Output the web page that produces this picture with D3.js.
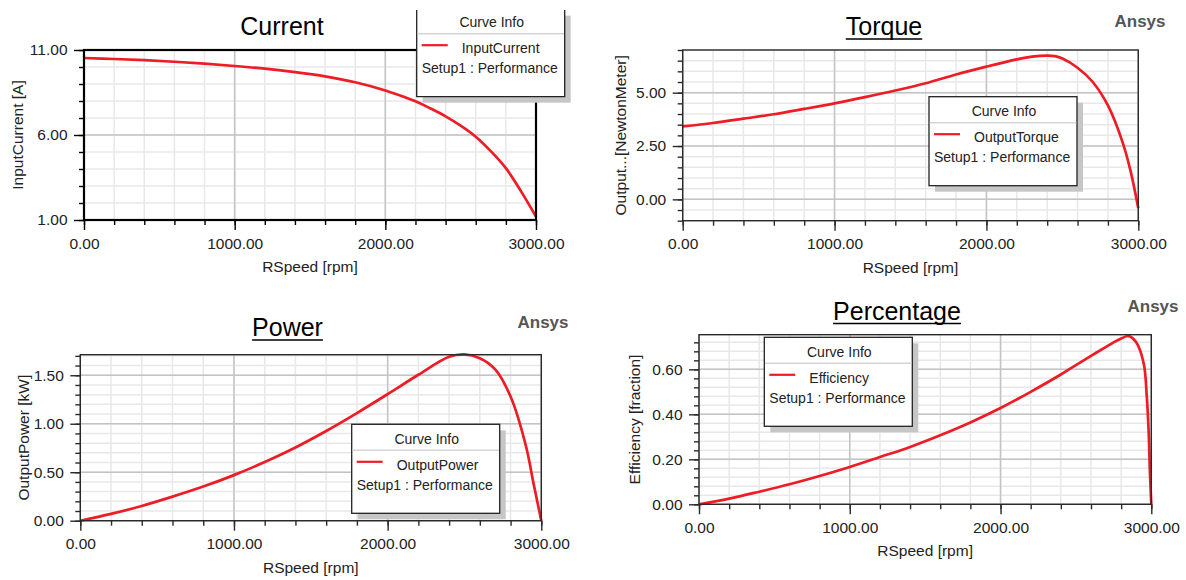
<!DOCTYPE html>
<html>
<head>
<meta charset="utf-8">
<script src="https://cdn.jsdelivr.net/npm/d3@7"></script>
<style>
  html, body { margin: 0; padding: 0; background: #fff; }
  svg { display: block; font-family: "Liberation Sans", Arial, sans-serif; }
</style>
</head>
<body>
<svg id="chart" width="1186" height="580"></svg>
<script>
// ---------------- DATA ----------------
const xTickLabels = ["0.00", "1000.00", "2000.00", "3000.00"];
const xMajorTicks = [0, 1000, 2000, 3000];

const currentRpm = [0, 200, 400, 600, 800, 1000, 1200, 1400, 1600, 1800, 2000, 2200, 2300, 2400, 2500, 2600, 2700, 2800, 2900, 3000];
const currentValues = [10.53, 10.47, 10.4, 10.31, 10.2, 10.06, 9.9, 9.7, 9.45, 9.1, 8.62, 7.98, 7.56, 7.1, 6.55, 5.9, 5.05, 4.05, 2.7, 1.2];
const currentYTicks = [1, 6, 11];

const torqueRpm = [0, 200, 400, 600, 800, 1000, 1200, 1400, 1600, 1800, 2000, 2200, 2300, 2400, 2450, 2500, 2600, 2700, 2800, 2900, 2950, 3000];
const torqueValues = [3.42, 3.58, 3.78, 3.99, 4.24, 4.5, 4.79, 5.1, 5.44, 5.85, 6.22, 6.56, 6.69, 6.74, 6.71, 6.6, 6.17, 5.5, 4.4, 2.6, 1.3, -0.42];
const torqueYTicks = [0, 2.5, 5];

const powerRpm = [0, 200, 400, 600, 800, 1000, 1200, 1400, 1600, 1800, 2000, 2200, 2400, 2500, 2600, 2700, 2800, 2900, 2950, 3000];
const powerValues = [0, 0.07, 0.152, 0.248, 0.352, 0.47, 0.605, 0.755, 0.925, 1.11, 1.305, 1.505, 1.69, 1.715, 1.675, 1.56, 1.28, 0.77, 0.38, 0];
const powerYTicks = [0, 0.5, 1.0, 1.5];

const effRpm = [0, 200, 400, 600, 800, 1000, 1200, 1400, 1600, 1800, 2000, 2200, 2400, 2500, 2600, 2700, 2750, 2800, 2850, 2900, 2950, 2970, 2982, 2991, 3000];
const effValues = [0, 0.025, 0.056, 0.089, 0.126, 0.166, 0.21, 0.255, 0.307, 0.364, 0.428, 0.5, 0.577, 0.619, 0.66, 0.70, 0.72, 0.737, 0.748, 0.72, 0.625, 0.48, 0.33, 0.14, 0];
const effYTicks = [0, 0.2, 0.4, 0.6];

// ---------------- LAYOUT ----------------
const RED = "#ee1c25";
const FONT = "\"Liberation Sans\", Arial, sans-serif";
const svg = d3.select("#chart");

const charts = [
  { id: "cur", title: "Current", underline: false, titleX: 282, titleY: 35, ansys: null,
    left: 84, right: 536, top: 50, bottom: 220, yDomain: [1, 11], yMinorStep: 1, yTicks: currentYTicks,
    rpm: currentRpm, values: currentValues, yLabel: "InputCurrent [A]", yLabelX: 17, heavyFrame: true,
    legend: { x: 416.7, y: 7.7, name: "InputCurrent", noTop: true } },
  { id: "tq", title: "Torque", underline: true, titleX: 884, titleY: 35, ansys: [1140, 27],
    left: 682.7, right: 1138.3, top: 50, bottom: 220.7, yDomain: [-1, 7], yMinorStep: 0.5, yTicks: torqueYTicks,
    rpm: torqueRpm, values: torqueValues, yLabel: "Output...[NewtonMeter]", yLabelX: 620.7,
    legend: { x: 929, y: 96.7, name: "OutputTorque" } },
  { id: "pw", title: "Power", underline: true, titleX: 287.5, titleY: 336, ansys: [543, 328],
    left: 80.3, right: 541.3, top: 354.7, bottom: 520.7, yDomain: [0, 1.712], yMinorStep: 0.1, yTicks: powerYTicks,
    rpm: powerRpm, values: powerValues, yLabel: "OutputPower [kW]", yLabelX: 23.3,
    legend: { x: 351.7, y: 424.3, name: "OutputPower" } },
  { id: "ef", title: "Percentage", underline: true, titleX: 897, titleY: 319.5, ansys: [1153, 312],
    left: 699, right: 1151.3, top: 334.7, bottom: 504.3, yDomain: [0, 0.754], yMinorStep: 0.04, yTicks: effYTicks,
    rpm: effRpm, values: effValues, yLabel: "Efficiency [fraction]", yLabelX: 634,
    legend: { x: 764.3, y: 337.3, name: "Efficiency" } }
];

function minorRange(lo, hi, step) {
  const out = [];
  const n0 = Math.ceil(lo / step - 1e-9), n1 = Math.floor(hi / step + 1e-9);
  for (let i = n0; i <= n1; i++) out.push(+(i * step).toFixed(6));
  return out;
}

charts.forEach(c => {
  const g = svg.append("g");
  const x = d3.scaleLinear().domain([0, 3000]).range([c.left, c.right]);
  const y = d3.scaleLinear().domain(c.yDomain).range([c.bottom, c.top]);

  const xMinor = minorRange(0, 3000, 200);
  const yMinor = minorRange(c.yDomain[0], c.yDomain[1], c.yMinorStep);

  // minor grid
  g.append("g").selectAll("line").data(xMinor).join("line")
    .attr("x1", d => x(d)).attr("x2", d => x(d)).attr("y1", c.top).attr("y2", c.bottom)
    .attr("stroke", "#e8e8e8").attr("stroke-width", 1.5);
  g.append("g").selectAll("line").data(yMinor).join("line")
    .attr("y1", d => y(d)).attr("y2", d => y(d)).attr("x1", c.left).attr("x2", c.right)
    .attr("stroke", "#e8e8e8").attr("stroke-width", 1.5);
  // major grid
  g.append("g").selectAll("line").data(xMajorTicks).join("line")
    .attr("x1", d => x(d)).attr("x2", d => x(d)).attr("y1", c.top).attr("y2", c.bottom)
    .attr("stroke", "#c4c4c4").attr("stroke-width", 1.5);
  g.append("g").selectAll("line").data(c.yTicks).join("line")
    .attr("y1", d => y(d)).attr("y2", d => y(d)).attr("x1", c.left).attr("x2", c.right)
    .attr("stroke", "#c4c4c4").attr("stroke-width", 1.5);

  // curve
  const clipId = "clip-" + c.id;
  svg.append("clipPath").attr("id", clipId).append("rect")
    .attr("x", c.left - 2).attr("y", c.top - 2).attr("width", c.right - c.left + 4).attr("height", c.bottom - c.top + 4);
  const pts = c.rpm.map((r, i) => [r, c.values[i]]);
  const line = d3.line().x(d => x(d[0])).y(d => y(d[1])).curve(d3.curveCatmullRom.alpha(0.5));
  g.append("path").datum(pts).attr("d", line).attr("fill", "none")
    .attr("stroke", RED).attr("stroke-width", 2.7).attr("stroke-linejoin", "round")
    .attr("clip-path", `url(#${clipId})`);

  // frame
  g.append("rect").attr("x", c.left).attr("y", c.top)
    .attr("width", c.right - c.left).attr("height", c.bottom - c.top)
    .attr("fill", "none").attr("stroke", c.heavyFrame ? "#000" : "#2a2a2a")
    .attr("stroke-width", c.heavyFrame ? 2.2 : 1.4);

  const axisColor = c.heavyFrame ? "#000" : "#2a2a2a";
  const yMinorAxis = d3.axisLeft(y).tickValues(yMinor).tickSize(5).tickFormat("");
  const yMajorAxis = d3.axisLeft(y).tickValues(c.yTicks).tickSize(10).tickPadding(6.5).tickFormat(d3.format(".2f"));
  const xMinorAxis = d3.axisBottom(x).tickValues(xMinor).tickSize(5).tickFormat("");
  const xMajorAxis = d3.axisBottom(x).tickValues(xMajorTicks).tickSize(10).tickPadding(7.5)
    .tickFormat((d, i) => xTickLabels[i]);

  [yMinorAxis, yMajorAxis].forEach(ax => {
    const a = g.append("g").attr("transform", `translate(${c.left},0)`).call(ax);
    a.select(".domain").remove();
    a.selectAll("line").attr("stroke", axisColor).attr("stroke-width", 1.4);
    a.selectAll("text").attr("font-family", FONT).attr("font-size", 15.5).attr("fill", "#222");
  });
  [xMinorAxis, xMajorAxis].forEach(ax => {
    const a = g.append("g").attr("transform", `translate(0,${c.bottom})`).call(ax);
    a.select(".domain").remove();
    a.selectAll("line").attr("stroke", axisColor).attr("stroke-width", 1.4);
    a.selectAll("text").attr("font-family", FONT).attr("font-size", 15.5).attr("fill", "#222");
  });

  // axis titles
  g.append("text").attr("x", (c.left + c.right) / 2).attr("y", c.bottom + 52)
    .attr("text-anchor", "middle").attr("font-size", 15.5).attr("fill", "#222").text("RSpeed [rpm]");
  g.append("text").attr("transform", `translate(${c.yLabelX},${(c.top + c.bottom) / 2}) rotate(-90)`)
    .attr("text-anchor", "middle").attr("dominant-baseline", "central")
    .attr("font-size", 15.5).attr("fill", "#222").text(c.yLabel);

  // title
  const t = g.append("text").attr("x", c.titleX).attr("y", c.titleY).attr("text-anchor", "middle")
    .attr("font-size", 25).attr("fill", "#000").text(c.title);
  if (c.underline) {
    const w = t.node().getComputedTextLength();
    g.append("line").attr("x1", c.titleX - w / 2).attr("x2", c.titleX + w / 2)
      .attr("y1", c.titleY + 4).attr("y2", c.titleY + 4).attr("stroke", "#000").attr("stroke-width", 1.6);
  }
  if (c.ansys) {
    g.append("text").attr("x", c.ansys[0]).attr("y", c.ansys[1]).attr("text-anchor", "middle")
      .attr("font-size", 17).attr("font-weight", "bold").attr("fill", "#555").text("Ansys");
  }

  // legend
  const L = c.legend, W = 148, H = 89;
  const lg = svg.append("g").attr("transform", `translate(${L.x},${L.y})`);
  lg.append("rect").attr("x", 6).attr("y", L.noTop ? 8 : 6).attr("width", W).attr("height", L.noTop ? H - 2 : H)
    .attr("fill", "#c6c6c6");
  lg.append("rect").attr("x", 0).attr("y", L.noTop ? 2 : 0).attr("width", W).attr("height", L.noTop ? H - 2 : H)
    .attr("fill", "#fff").attr("stroke", L.noTop ? "none" : "#222").attr("stroke-width", 1.3);
  if (L.noTop) {
    lg.append("path").attr("d", `M0,2.3 V${H} H${W} V2.3`).attr("fill", "none")
      .attr("stroke", "#222").attr("stroke-width", 1.3);
  }
  lg.append("line").attr("x1", 0.7).attr("x2", W - 0.7).attr("y1", 26).attr("y2", 26)
    .attr("stroke", "#d4d4d4").attr("stroke-width", 1.5);
  lg.append("text").attr("x", W / 2 + 1).attr("y", 19.6).attr("text-anchor", "middle")
    .attr("font-size", 14).attr("fill", "#222").text("Curve Info");
  lg.append("line").attr("x1", 5).attr("x2", 31).attr("y1", 37.5).attr("y2", 37.5)
    .attr("stroke", RED).attr("stroke-width", 2.2);
  lg.append("text").attr("x", 45).attr("y", 45.6).attr("font-size", 14).attr("fill", "#222").text(L.name);
  lg.append("text").attr("x", 5).attr("y", 65.6).attr("font-size", 14).attr("fill", "#222").text("Setup1 : Performance");
});
</script>
</body>
</html>
